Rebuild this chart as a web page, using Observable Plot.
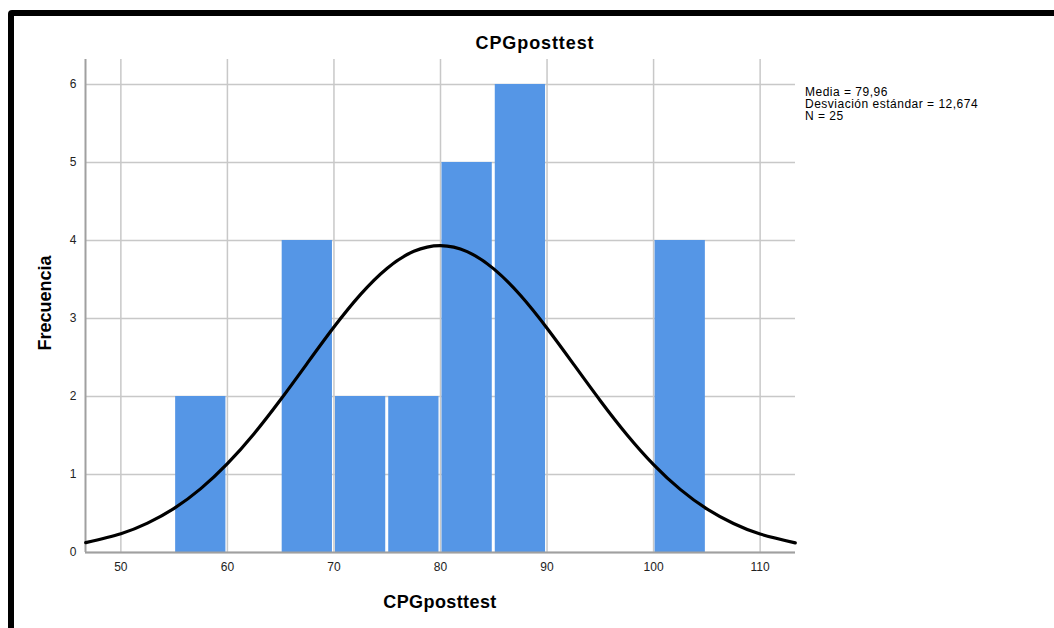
<!DOCTYPE html>
<html>
<head>
<meta charset="utf-8">
<script src="https://cdn.jsdelivr.net/npm/d3@7"></script>
<script src="https://cdn.jsdelivr.net/npm/@observablehq/plot@0.6"></script>
<style>
  html, body { margin: 0; padding: 0; background: #fff; overflow: hidden; }
  #wrap { position: relative; width: 1054px; height: 628px; font-family: "Liberation Sans", Arial, sans-serif; }
  #frame { position: absolute; left: 8px; top: 10px; width: 1100px; height: 700px; border: 6px solid #000; border-radius: 4px; box-sizing: border-box; }
  #chart { position: absolute; left: 0; top: 0; }
  .lbl { position: absolute; font-weight: bold; color: #000; white-space: nowrap; }
  #title { left: 535px; top: 33px; transform: translateX(-50%); font-size: 18px; letter-spacing: 0.9px; }
  #xlabel { left: 440px; top: 592px; transform: translateX(-50%); font-size: 18px; letter-spacing: 0.4px; }
  #ylabel { left: 45px; top: 303px; transform: translate(-50%, -50%) rotate(-90deg); font-size: 18px; }
  #legend { position: absolute; left: 805px; top: 86px; font-size: 12px; letter-spacing: 0.5px; line-height: 12px; color: #000; }
  #legend div { height: 12px; }
</style>
</head>
<body>
<div id="wrap">
  <div id="frame"></div>
  <div id="chart"></div>
  <div class="lbl" id="title"></div>
  <div class="lbl" id="xlabel"></div>
  <div class="lbl" id="ylabel"></div>
  <div id="legend"></div>
</div>
<script>
// ---- data ----
const chartTitle = "CPGposttest";
const xLabel = "CPGposttest";
const yLabel = "Frecuencia";
const legendLines = ["Media = 79,96", "Desviación estándar = 12,674", "N = 25"];

const binStart = [55, 65, 70, 75, 80, 85, 100];
const binEnd   = [60, 70, 75, 80, 85, 90, 105];
const counts   = [2, 4, 2, 2, 5, 6, 4];

// normal curve
const curveX = [46.7, 50, 52.5, 55, 57.5, 60, 62.5, 65, 67.5, 70, 72.5, 75, 77.5, 80, 82.5, 85, 87.5, 90, 92.5, 95, 97.5, 100, 102.5, 105, 107.5, 110, 113.3];
const curveY = [0.126, 0.241, 0.376, 0.566, 0.819, 1.139, 1.523, 1.961, 2.427, 2.890, 3.309, 3.645, 3.861, 3.935, 3.857, 3.636, 3.297, 2.875, 2.412, 1.946, 1.510, 1.127, 0.809, 0.559, 0.371, 0.237, 0.124];

const xTicks = [50, 60, 70, 80, 90, 100, 110];
const yTicks = [0, 1, 2, 3, 4, 5, 6];
const xDomain = [46.68, 113.32];
const yDomain = [0, 6.32];

// ---- build ----
const bars = binStart.map((s, i) => ({x1: s, x2: binEnd[i], y: counts[i]}));
const curve = curveX.map((x, i) => ({x, y: curveY[i]}));

const plot = Plot.plot({
  width: 1054,
  height: 628,
  marginLeft: 85,
  marginRight: 259,
  marginTop: 59,
  marginBottom: 76,
  style: {fontFamily: "'Liberation Sans', Arial, sans-serif", fontSize: "12px", color: "#222", background: "transparent"},
  x: {domain: xDomain},
  y: {domain: yDomain},
  marks: [
    Plot.gridX(xTicks, {stroke: "#c8c8c8", strokeOpacity: 1, strokeWidth: 1.5}),
    Plot.gridY(yTicks, {stroke: "#c8c8c8", strokeOpacity: 1, strokeWidth: 1.5}),
    Plot.rectY(bars, {x1: "x1", x2: "x2", y: "y", fill: "#5596e6", insetLeft: 1.5, insetRight: 1.5}),
    Plot.ruleX([xDomain[0]], {stroke: "#a0a0a0", strokeWidth: 2}),
    Plot.ruleY([yDomain[0]], {stroke: "#a0a0a0", strokeWidth: 2}),
    Plot.line(curve, {x: "x", y: "y", curve: "natural", stroke: "#000", strokeWidth: 3.2}),
    Plot.axisX(xTicks, {tickSize: 0, tickPadding: 10, label: null, fontSize: 12, fill: "#222", tickFormat: d => String(d)}),
    Plot.axisY(yTicks, {tickSize: 0, tickPadding: 9, label: null, fontSize: 12, fill: "#222", tickFormat: d => String(d)})
  ]
});
document.getElementById("chart").appendChild(plot);
document.getElementById("title").textContent = chartTitle;
document.getElementById("xlabel").textContent = xLabel;
document.getElementById("ylabel").textContent = yLabel;
document.getElementById("legend").innerHTML = legendLines.map(t => `<div>${t}</div>`).join("");
</script>
</body>
</html>
